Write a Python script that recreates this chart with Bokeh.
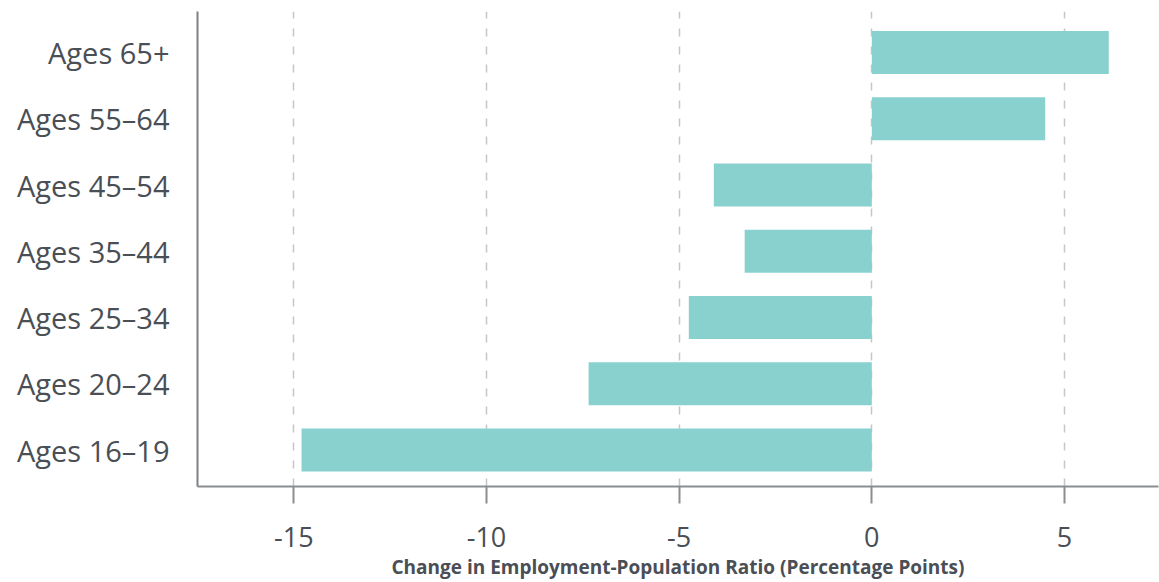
from bokeh.plotting import figure
from bokeh.models import Range1d, FixedTicker
from bokeh.embed import file_html
from bokeh.resources import INLINE

categories = ["Ages 16–19", "Ages 20–24", "Ages 25–34", "Ages 35–44",
              "Ages 45–54", "Ages 55–64", "Ages 65+"]
changes = [-14.8, -7.35, -4.75, -3.3, -4.1, 4.5, 6.15]
x_ticks = [-15, -10, -5, 0, 5]
x_tick_labels = ["-15", "-10", "-5", "0", "5"]
x_title = "Change in Employment-Population Ratio (Percentage Points)"

FONT = "Open Sans"
TXT = "#4a4e55"

positions = list(range(len(categories)))

p = figure(width=1159, height=582, output_backend="svg", toolbar_location=None,
           x_range=Range1d(-17.5, 7.44), y_range=Range1d(-0.55, 6.62),
           min_border_left=197, min_border_right=1, min_border_top=11,
           min_border_bottom=10)
p.outline_line_color = None
p.background_fill_color = "white"
p.border_fill_color = "white"

p.hbar(y=positions, left=0, right=changes, height=0.65,
       fill_color="#88d1cf", line_color=None)

# x axis
xa = p.xaxis[0]
xa.ticker = FixedTicker(ticks=x_ticks)
xa.major_label_overrides = {t: l for t, l in zip(x_ticks, x_tick_labels)}
xa.axis_label = x_title
xa.axis_label_text_font = FONT
xa.axis_label_text_font_style = "bold"
xa.axis_label_text_font_size = "19px"
xa.axis_label_text_color = TXT
xa.axis_label_standoff = 4
xa.major_label_text_font = FONT
xa.major_label_text_font_size = "27px"
xa.major_label_text_color = TXT
xa.major_label_standoff = 23
xa.axis_line_color = "#8a8d92"
xa.axis_line_width = 2
xa.major_tick_line_color = "#8a8d92"
xa.major_tick_line_width = 2
xa.major_tick_out = 17
xa.major_tick_in = 0
xa.minor_tick_line_color = None

# y axis
ya = p.yaxis[0]
ya.ticker = FixedTicker(ticks=positions)
ya.major_label_overrides = {i: c for i, c in zip(positions, categories)}
ya.major_label_text_font = FONT
ya.major_label_text_font_size = "29px"
ya.major_label_text_color = TXT
ya.major_label_standoff = 22
ya.axis_line_color = "#7d8085"
ya.axis_line_width = 2
ya.major_tick_line_color = None
ya.minor_tick_line_color = None

p.ygrid.grid_line_color = None
p.xgrid.ticker = FixedTicker(ticks=x_ticks)
p.xgrid.grid_line_color = "#c6c6ca"
p.xgrid.grid_line_width = 1.5
p.xgrid.grid_line_dash = "8 10"

open("out.html", "w").write(file_html(p, INLINE))
